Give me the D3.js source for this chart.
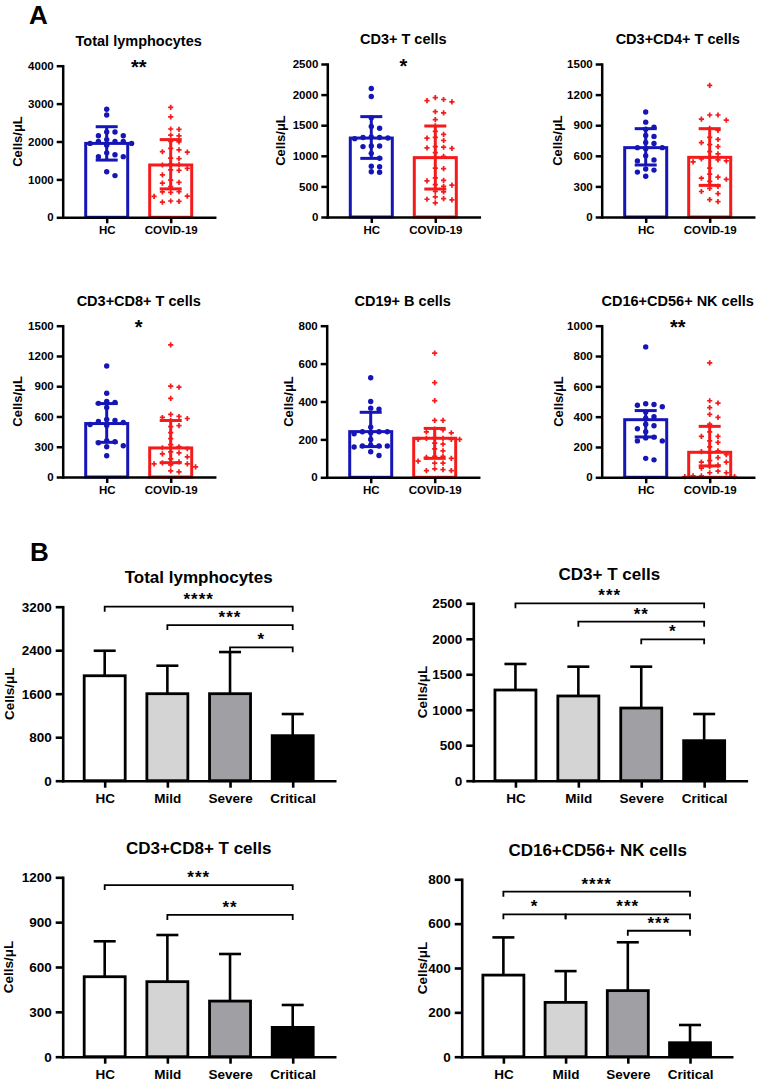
<!DOCTYPE html>
<html><head><meta charset="utf-8">
<script src="https://cdn.jsdelivr.net/npm/d3@7"></script>
<style>body{margin:0;background:#fff} svg{display:block}</style>
</head><body><svg id="c" width="758" height="1081"></svg>
<script>
// ---------------- DATA ----------------
const groupsA = ["HC", "COVID-19"];
const groupsB = ["HC", "Mild", "Severe", "Critical"];
const titlesA = ["Total lymphocytes", "CD3+ T cells", "CD3+CD4+ T cells", "CD3+CD8+ T cells", "CD19+ B cells", "CD16+CD56+ NK cells"];
const titlesB = ["Total lymphocytes", "CD3+ T cells", "CD3+CD8+ T cells", "CD16+CD56+ NK cells"];

// Panel A individual values (cells/µL)
const hcTotal = [2850,2700,2250,2250,2150,2150,2050,2000,2000,2000,1950,1950,1900,1700,1650,1600,1600,1200,1100];
const covidTotal = [2900,2650,2330,2320,2170,2150,2000,1990,1820,1780,1730,1720,1560,1550,1400,1390,1380,1290,1250,1240,1120,980,920,900,810,680,670,660,560,550,430,420,400];
const hcCD3 = [2100,1970,1620,1480,1450,1310,1300,1300,1290,1280,1160,1160,1150,1040,960,830,820,740,730];
const covidCD3 = [1950,1920,1900,1880,1720,1700,1590,1490,1400,1350,1300,1290,1250,1150,1140,1130,1120,1050,990,960,800,790,640,600,590,530,520,500,420,410,330,300,290,280,230];
const hcCD4 = [1030,930,880,860,800,790,730,720,680,680,670,600,560,550,470,460,440,400];
const covidCD4 = [1290,1000,1000,960,950,870,850,780,760,730,710,690,640,620,580,570,560,550,540,480,420,390,380,370,350,300,280,250,230,170,150];
const hcCD8 = [1100,830,750,740,730,690,570,560,550,540,520,510,360,350,340,310,300,210];
const covidCD8 = [1310,900,890,780,620,600,590,580,560,510,500,440,380,320,300,290,280,250,240,230,200,180,150,140,130,130,120,100,60,50];
const hcCD19 = [525,400,365,360,265,240,240,240,235,230,200,170,165,165,165,160,135,115];
const covidCD19 = [655,500,405,300,300,255,250,240,235,210,205,205,200,200,200,180,175,150,140,110,110,105,100,85,75,75,45,40,35,35];
const hcNK = [860,485,480,475,465,430,400,390,350,340,320,300,265,260,240,240,125,115];
const covidNK = [755,505,490,460,415,395,350,300,270,270,240,230,200,175,170,160,150,130,110,100,100,80,70,60,40,30,30,10,10,5,5];

// Panel A bar (median) and whisker (IQR) values: [HC, COVID-19]
const medianA = [[1950,1380],[1290,970],[680,585],[530,288],[241,206],[380,165]];
const lowA    = [[1510,750],[958,457],[510,310],[344,142],[162,100],[266,75]];
const highA   = [[2390,2050],[1640,1487],[866,866],[728,560],[343,258],[440,336]];
const sigA = ["**", "*", "", "*", "", "**"];
const ticksA = [
  [0,1000,2000,3000,4000],
  [0,500,1000,1500,2000,2500],
  [0,300,600,900,1200,1500],
  [0,300,600,900,1200,1500],
  [0,200,400,600,800],
  [0,200,400,600,800,1000]
];

// Panel B means and SD: [HC, Mild, Severe, Critical]
const meanTotalB = [1930,1600,1600,828];
const sdTotalB   = [460,515,766,398];
const meanCD3B   = [1278,1194,1024,564];
const sdCD3B     = [367,413,583,376];
const meanCD8B   = [535,502,372,196];
const sdCD8B     = [237,312,315,150];
const meanNKB    = [368,245,298,63];
const sdNKB      = [170,141,218,80];

const sigTotalB = [["HC","Critical","****"],["Mild","Critical","***"],["Severe","Critical","*"]];
const sigCD3B   = [["HC","Critical","***"],["Mild","Critical","**"],["Severe","Critical","*"]];
const sigCD8B   = [["HC","Critical","***"],["Mild","Critical","**"]];
const sigNKB    = [["HC","Critical","****"],["HC","Mild","*"],["Mild","Critical","***"],["Severe","Critical","***"]];

const ticksB = [
  [0,800,1600,2400,3200],
  [0,500,1000,1500,2000,2500],
  [0,300,600,900,1200],
  [0,200,400,600,800]
];

// ---------------- STYLE / LAYOUT ----------------
const FONT = '"Liberation Sans", Arial, Helvetica, sans-serif';
const colorsA = ["#1616b6", "#f51b1b"];
const fillsB = ["#ffffff", "#d4d4d4", "#a0a0a4", "#000000"];

const pointsA = [[hcTotal,covidTotal],[hcCD3,covidCD3],[hcCD4,covidCD4],[hcCD8,covidCD8],[hcCD19,covidCD19],[hcNK,covidNK]];
const meansB = [meanTotalB, meanCD3B, meanCD8B, meanNKB];
const sdsB = [sdTotalB, sdCD3B, sdCD8B, sdNKB];
const sigsB = [sigTotalB, sigCD3B, sigCD8B, sigNKB];

const layoutA = [
  {x:62.7, top:65.7, bottom:217.3, ylab:-41},
  {x:327.3, top:64, bottom:217, ylab:-42},
  {x:601.7, top:64, bottom:217, ylab:-40},
  {x:62.7, top:325.7, bottom:477, ylab:-41},
  {x:326.7, top:325.7, bottom:477.3, ylab:-34},
  {x:601.7, top:325.7, bottom:477.3, ylab:-38.5}
];
const layoutB = [
  {x:62.7, top:606.7, bottom:780.7, w:272, ylab:-49, levels:[3200,2862,2452]},
  {x:473.3, top:603.3, bottom:780.7, w:273, ylab:-46.6, levels:[2500,2241,1993]},
  {x:62.7, top:877.3, bottom:1056.7, w:272, ylab:-49.4, levels:[1148,948]},
  {x:461.7, top:879.3, bottom:1056.7, w:270, ylab:-35, levels:[744,642,642,568]}
];

const svg = d3.select("#c");
svg.append("rect").attr("width",758).attr("height",1081).attr("fill","#fff");

function styleAxis(g, sw, fs) {
  g.attr("font-family", FONT).attr("font-size", fs).attr("font-weight", "bold");
  g.select(".domain").attr("stroke","#000").attr("stroke-width",sw).attr("stroke-linecap","square");
  g.selectAll(".tick line").attr("stroke","#000").attr("stroke-width",sw);
  g.selectAll(".tick text").attr("fill","#000");
}

function swarm(vals, y, step, rad) {
  const placed = [];
  const sorted = vals.slice().sort((a,b)=>b-a);
  for (const v of sorted) {
    const py = y(v);
    for (let k = 0; k < 40; k++) {
      const off = k === 0 ? 0 : (k % 2 ? 1 : -1) * Math.ceil(k/2) * step;
      if (!placed.some(q => Math.abs(q.y - py) < rad && Math.abs(q.x - off) < step * 0.9)) {
        placed.push({x: off, y: py}); break;
      }
    }
  }
  return placed;
}

// Panel labels
svg.append("text").attr("x",29).attr("y",23.5).text("A")
  .attr("font-family",FONT).attr("font-weight","bold").attr("font-size",26);
svg.append("text").attr("x",30).attr("y",561).text("B")
  .attr("font-family",FONT).attr("font-weight","bold").attr("font-size",26);

// ---------------- PANEL A ----------------
function drawA(i) {
  const L = layoutA[i], W = 152;
  const x = d3.scalePoint().domain(groupsA).range([0, W]).padding(0.6875);
  const y = d3.scaleLinear().domain([0, d3.max(ticksA[i])]).range([L.bottom, L.top]);
  const g = svg.append("g").attr("transform", `translate(${L.x},0)`);

  groupsA.forEach((grp, j) => {
    const cx = x(grp), col = colorsA[j];
    g.append("rect").attr("x", cx - 21).attr("width", 42)
      .attr("y", y(medianA[i][j])).attr("height", y(0) - y(medianA[i][j]))
      .attr("fill", "none").attr("stroke", col).attr("stroke-width", 3);
    const pts = swarm(pointsA[i][j], y, 8.3, 5.5);
    if (j === 0) {
      g.selectAll(null).data(pts).join("circle")
        .attr("cx", d => cx + d.x).attr("cy", d => d.y).attr("r", 2.7).attr("fill", col);
    } else {
      const sym = d3.symbol(d3.symbolCross, 15);
      g.selectAll(null).data(pts).join("path")
        .attr("d", sym).attr("transform", d => `translate(${cx + d.x},${d.y})`).attr("fill", col);
    }
    const eb = g.append("g").attr("stroke", col).attr("stroke-width", 3).attr("fill","none");
    eb.append("line").attr("x1",cx).attr("x2",cx).attr("y1",y(lowA[i][j])).attr("y2",y(highA[i][j]));
    [lowA[i][j], highA[i][j]].forEach(v => {
      eb.append("line").attr("x1",cx-11).attr("x2",cx+11).attr("y1",y(v)).attr("y2",y(v));
    });
  });

  const ya = g.append("g").call(d3.axisLeft(y).tickValues(ticksA[i]).tickSize(6).tickPadding(3).tickSizeOuter(0).tickFormat(d3.format("d")));
  styleAxis(ya, 2.5, 11.5);
  const xa = g.append("g").attr("transform", `translate(0,${L.bottom})`)
    .call(d3.axisBottom(x).tickSize(6).tickPadding(3).tickSizeOuter(0));
  styleAxis(xa, 2.5, 11.5);

  g.append("text").attr("x", W/2).attr("y", L.top - 20).attr("text-anchor","middle")
    .attr("font-family",FONT).attr("font-weight","bold").attr("font-size",14.5).text(titlesA[i]);
  g.append("text").attr("transform", `translate(${L.ylab},${(L.top+L.bottom)/2}) rotate(-90)`)
    .attr("text-anchor","middle").attr("font-family",FONT).attr("font-weight","bold").attr("font-size",13).text("Cells/μL");
  if (sigA[i]) {
    g.append("text").attr("x", (x(groupsA[0]) + x(groupsA[1]))/2).attr("y", L.top - 3 + 0.575*20)
      .attr("text-anchor","middle").attr("font-family",FONT).attr("font-weight","bold").attr("font-size",20).text(sigA[i]);
  }
}

// ---------------- PANEL B ----------------
function drawB(i) {
  const L = layoutB[i];
  const x = d3.scalePoint().domain(groupsB).range([0, L.w]).padding(0.67);
  const y = d3.scaleLinear().domain([0, d3.max(ticksB[i])]).range([L.bottom, L.top]);
  const g = svg.append("g").attr("transform", `translate(${L.x},0)`);

  groupsB.forEach((grp, j) => {
    const cx = x(grp), m = meansB[i][j], s = sdsB[i][j];
    g.append("line").attr("x1",cx).attr("x2",cx).attr("y1",y(m)).attr("y2",y(m+s))
      .attr("stroke","#000").attr("stroke-width",2.6);
    g.append("line").attr("x1",cx-11).attr("x2",cx+11).attr("y1",y(m+s)).attr("y2",y(m+s))
      .attr("stroke","#000").attr("stroke-width",2.6);
    g.append("rect").attr("x", cx - 20.5).attr("width", 41)
      .attr("y", y(m)).attr("height", y(0) - y(m))
      .attr("fill", fillsB[j]).attr("stroke", "#000").attr("stroke-width", 2.8);
  });

  sigsB[i].forEach((s, k) => {
    const x1 = x(s[0]), x2 = x(s[1]), by = y(L.levels[k]);
    g.append("path").attr("d", `M${x1},${by+5}V${by}H${x2}V${by+5}`)
      .attr("fill","none").attr("stroke","#000").attr("stroke-width",1.8);
    g.append("text").attr("x",(x1+x2)/2).attr("y", by - 2).attr("text-anchor","middle")
      .attr("font-family",FONT).attr("font-weight","bold").attr("font-size",17).attr("letter-spacing",1).text(s[2]);
  });

  const ya = g.append("g").call(d3.axisLeft(y).tickValues(ticksB[i]).tickSize(7).tickPadding(4).tickSizeOuter(0).tickFormat(d3.format("d")));
  styleAxis(ya, 2.6, 13.5);
  const xa = g.append("g").attr("transform", `translate(0,${L.bottom})`)
    .call(d3.axisBottom(x).tickSize(7).tickPadding(5.5).tickSizeOuter(0));
  styleAxis(xa, 2.6, 13.5);

  g.append("text").attr("x", 136).attr("y", L.top - 23.3).attr("text-anchor","middle")
    .attr("font-family",FONT).attr("font-weight","bold").attr("font-size",17).text(titlesB[i]);
  g.append("text").attr("transform", `translate(${L.ylab},${(L.top+L.bottom)/2}) rotate(-90)`)
    .attr("text-anchor","middle").attr("font-family",FONT).attr("font-weight","bold").attr("font-size",13.5).text("Cells/μL");
}

for (let i = 0; i < 6; i++) drawA(i);
for (let i = 0; i < 4; i++) drawB(i);
</script></body></html>
